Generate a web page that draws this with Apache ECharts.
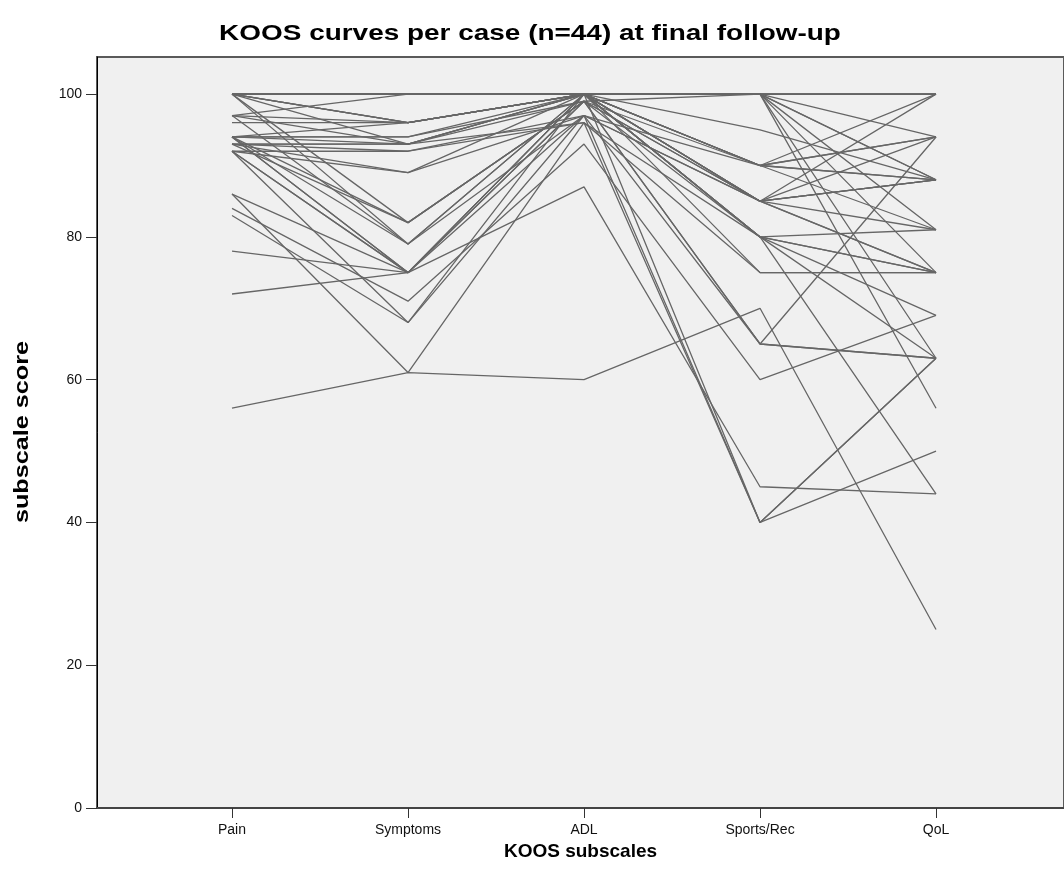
<!DOCTYPE html>
<html>
<head>
<meta charset="utf-8">
<script src="https://cdn.jsdelivr.net/npm/echarts@6/dist/echarts.min.js"></script>
<style>
html,body{margin:0;padding:0;background:#fff;}
#chart{width:1064px;height:887px;}
</style>
</head>
<body>
<div id="chart"></div>
<script>
// Categories (KOOS subscales)
var categories = ['Pain', 'Symptoms', 'ADL', 'Sports/Rec', 'QoL'];
// Y tick values
var yTicks = [0, 20, 40, 60, 80, 100];
// Per-case subscale scores (44 cases)
var pain     = [100,100,100,100,100,100, 97, 97, 96, 94, 94, 93, 93, 92, 92, 94, 86, 86, 84, 83, 78, 72, 56,100,100, 94, 92,100, 97, 93, 94,100, 92,100, 94, 93,100, 97, 92, 94,100, 93, 94,100];
var symptoms = [100,100,100, 96, 82, 79,100, 79, 96, 93, 82, 93, 89, 92, 75, 75, 61, 75, 71, 68, 75, 75, 61,100, 93, 94, 75,100, 96, 92, 94, 96, 68,100, 96, 93,100, 93, 89, 79, 96, 82, 75,100];
var adl      = [100,100,100,100, 99, 97,100,100,100,100, 99,100, 97, 96,100, 99, 96, 99, 93, 97,100,100, 60,100,100, 99, 87,100,100, 97,100,100,100,100,100, 99,100, 96,100,100,100, 99, 97,100];
var sports   = [100,100,100,100, 90, 85,100, 80, 95, 90, 85,100, 85, 80, 75, 65, 40, 65, 60, 40, 80, 90, 70, 90, 85,100, 45, 80, 85, 90,100, 90, 40,100, 80, 85,100, 75,100, 85,100, 80, 65, 85];
var qol      = [100,100, 94, 88, 88, 75,100, 63, 88, 94,100, 81, 88, 75, 75, 63, 50, 94, 69, 63, 44, 88, 25, 81, 88, 56, 44, 75, 75,100, 75, 94, 63, 63, 69, 81, 88, 75,100, 88,100, 81, 63, 94];

var series = [];
for (var i = 0; i < pain.length; i++) {
  var vals = [pain[i], symptoms[i], adl[i], sports[i], qol[i]];
  series.push({
    type: 'line',
    data: vals.map(function (v, k) { return [k, v]; }),
    symbol: 'none',
    silent: true,
    lineStyle: { color: '#666666', width: 1.3 },
    animation: false
  });
}

var FONT = '"Liberation Sans", Arial, sans-serif';
var chart = echarts.init(document.getElementById('chart'), null, { renderer: 'canvas' });
chart.setOption({
  animation: false,
  backgroundColor: '#ffffff',
  graphic: [
    {
      type: 'text', x: 530, y: 34, scaleX: 1.27,
      style: {
        text: 'KOOS curves per case (n=44) at final follow-up',
        font: 'bold 22px ' + FONT, fill: '#000',
        textAlign: 'center', textVerticalAlign: 'middle'
      }
    },
    {
      type: 'text', x: 22, y: 432, rotation: Math.PI / 2, scaleX: 1.26,
      style: {
        text: 'subscale score',
        font: 'bold 20px ' + FONT, fill: '#000',
        textAlign: 'center', textVerticalAlign: 'middle'
      }
    }
  ],
  grid: {
    left: 97, top: 57, right: -3, bottom: 79,
    show: true, backgroundColor: '#f0f0f0', borderColor: '#5a5a5a', borderWidth: 2
  },
  xAxis: {
    type: 'value',
    min: -0.767, max: 4.727,
    splitLine: { show: false },
    axisLine: { show: true, onZero: false, lineStyle: { color: '#444', width: 2 } },
    axisTick: { show: true, length: 10, customValues: [0, 1, 2, 3, 4], lineStyle: { color: '#333', width: 1 } },
    axisLabel: {
      customValues: [0, 1, 2, 3, 4],
      formatter: function (v) { return categories[Math.round(v)] || ''; },
      fontFamily: FONT, fontSize: 14, color: '#111', margin: 15
    },
    name: 'KOOS subscales',
    nameLocation: 'middle', nameGap: 34, nameMoveOverlap: false,
    nameTextStyle: { fontFamily: FONT, fontWeight: 'bold', fontSize: 19, color: '#000' }
  },
  yAxis: {
    type: 'value',
    min: 0, max: 105.2,
    splitLine: { show: false },
    axisLine: { show: true, onZero: false, lineStyle: { color: '#000', width: 1 } },
    axisTick: { show: true, length: 11, customValues: yTicks, lineStyle: { color: '#333', width: 1 } },
    axisLabel: {
      customValues: yTicks,
      formatter: function (v) { return yTicks.indexOf(v) >= 0 ? String(v) : ''; },
      fontFamily: FONT, fontSize: 14, color: '#111', margin: 15
    }
  },
  series: series
});
</script>
</body>
</html>
